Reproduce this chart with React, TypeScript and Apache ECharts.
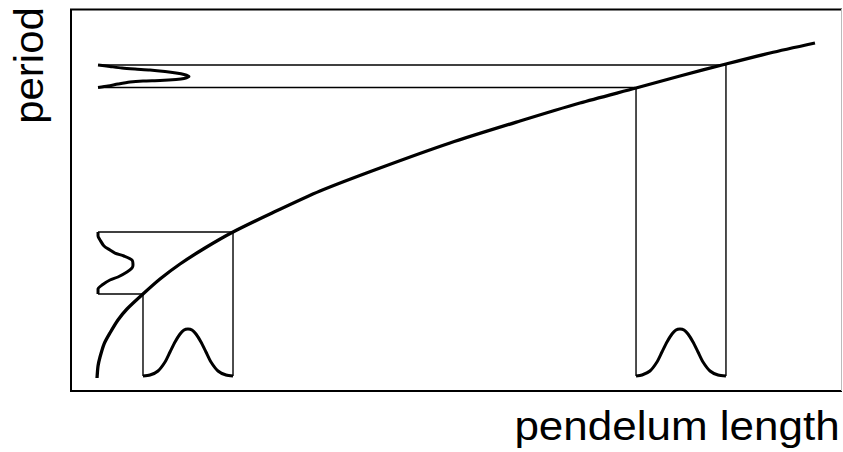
import React, { useEffect, useRef } from "react";
import * as echarts from "echarts";

// Main relation: pendulum length (x) vs period (y)
const curveLength = [3.38, 3.51, 3.77, 4.29, 5.06, 6.10, 7.27, 9.35, 11.56, 14.16, 17.40, 21.04, 25.84, 32.34, 40.13, 49.22, 58.31, 66.10, 73.38, 79.09, 85.06, 90.78, 96.62];
const curvePeriod = [2.90, 6.07, 8.44, 11.87, 14.78, 18.21, 21.11, 25.07, 29.02, 32.98, 37.20, 41.42, 46.17, 52.24, 58.31, 64.91, 70.71, 75.46, 79.42, 82.59, 85.75, 88.65, 91.29];

// Interval edges on the length axis and their period counterparts
const edgeLength = [9.35, 21.04, 73.38, 85.06];
const edgePeriod = [25.07, 41.42, 79.55, 85.49];
const lengthBase = 3.43; // baseline of the length distributions
const periodBase = 3.51; // baseline of the period distributions

// Length distributions (bottom bumps)
const bumpHeight = [3.43, 3.69, 4.75, 7.12, 9.76, 12.40, 14.51, 15.57, 15.83, 15.57, 14.51, 12.40, 9.76, 7.12, 4.75, 3.69, 3.43];
const bump1Length = [9.35, 10.26, 11.30, 12.21, 12.86, 13.51, 14.16, 14.68, 15.19, 15.71, 16.23, 16.88, 17.53, 18.18, 19.09, 20.13, 21.04];
const bump2Length = [73.38, 74.16, 75.19, 76.10, 76.75, 77.40, 78.05, 78.57, 79.09, 79.61, 80.13, 80.78, 81.43, 82.08, 82.99, 84.03, 85.06];

// Period distributions (sideways bumps on the left)
const side1Period = [25.07, 26.39, 27.44, 28.76, 29.55, 30.87, 31.93, 32.72, 34.04, 35.09, 35.88, 36.68, 37.73, 39.31, 40.37, 41.42];
const side1Width = [3.51, 3.51, 4.03, 5.06, 6.10, 7.27, 7.92, 8.05, 7.92, 6.88, 5.71, 5.06, 4.29, 3.77, 3.51, 3.51];
const side2Period = [85.49, 85.09, 84.70, 84.43, 84.17, 83.77, 83.38, 82.98, 82.45, 81.93, 81.66, 81.40, 81.27, 81.00, 80.47, 79.95, 79.55];
const side2Width = [3.51, 5.06, 6.62, 8.31, 10.26, 12.21, 13.64, 14.68, 15.32, 14.68, 13.64, 11.56, 9.35, 7.66, 6.10, 4.81, 3.51];

const zip = (a: number[], b: number[]) => a.map((v, i) => [v, b[i]]);

export default function App() {
  const ref = useRef<HTMLDivElement>(null);
  useEffect(() => {
    if (!ref.current) return;
    const chart = echarts.init(ref.current, null, { renderer: "svg" });
    const thick = (data: number[][], width = 3) => ({
      type: "line",
      data,
      symbol: "none",
      silent: true,
      smooth: 0.25,
      lineStyle: { color: "#000", width },
      z: 3,
    });
    const thin = (data: number[][]) => ({
      type: "line",
      data,
      symbol: "none",
      silent: true,
      lineStyle: { color: "#000", width: 1.4 },
      z: 2,
    });
    const thinSeries: any[] = [];
    edgeLength.forEach((L, i) => {
      thinSeries.push(thin([[L, lengthBase], [L, edgePeriod[i]]]));
      thinSeries.push(thin([[periodBase, edgePeriod[i]], [L, edgePeriod[i]]]));
    });
    chart.setOption({
      animation: false,
      grid: { left: 71, top: 10, width: 770, height: 379 },
      xAxis: { type: "value", min: 0, max: 100, show: false },
      yAxis: { type: "value", min: 0, max: 100, show: false },
      series: [
        thick(zip(curveLength, curvePeriod), 3.3),
        thick(zip(bump1Length, bumpHeight)),
        thick(zip(bump2Length, bumpHeight)),
        thick(zip(side1Width, side1Period)),
        thick(zip(side2Width, side2Period)),
        ...thinSeries,
      ],
      graphic: [
        { type: "line", shape: { x1: 71, y1: 9.5, x2: 71, y2: 391 }, style: { stroke: "#000", lineWidth: 2 } },
        { type: "line", shape: { x1: 70, y1: 9.5, x2: 842, y2: 9.5 }, style: { stroke: "#000", lineWidth: 2 } },
        { type: "line", shape: { x1: 70, y1: 391, x2: 842, y2: 391 }, style: { stroke: "#000", lineWidth: 2 } },
        { type: "line", shape: { x1: 841.5, y1: 9, x2: 841.5, y2: 391 }, style: { stroke: "#bbb", lineWidth: 1 } },
        {
          type: "text",
          x: 677,
          y: 426,
          scaleX: 1.1,
          style: {
            text: "pendelum length",
            fill: "#000",
            font: "40px 'Liberation Sans', Arial, sans-serif",
            textAlign: "center",
            textVerticalAlign: "middle",
          },
        },
        {
          type: "text",
          x: 29,
          y: 65.5,
          rotation: Math.PI / 2,
          scaleX: 1.05,
          style: {
            text: "period",
            fill: "#000",
            font: "40px 'Liberation Sans', Arial, sans-serif",
            textAlign: "center",
            textVerticalAlign: "middle",
          },
        },
      ],
    });
    return () => chart.dispose();
  }, []);
  return (
    <div
      ref={ref}
      style={{ position: "fixed", left: 0, top: 0, width: 843, height: 452, background: "#fff" }}
    />
  );
}
